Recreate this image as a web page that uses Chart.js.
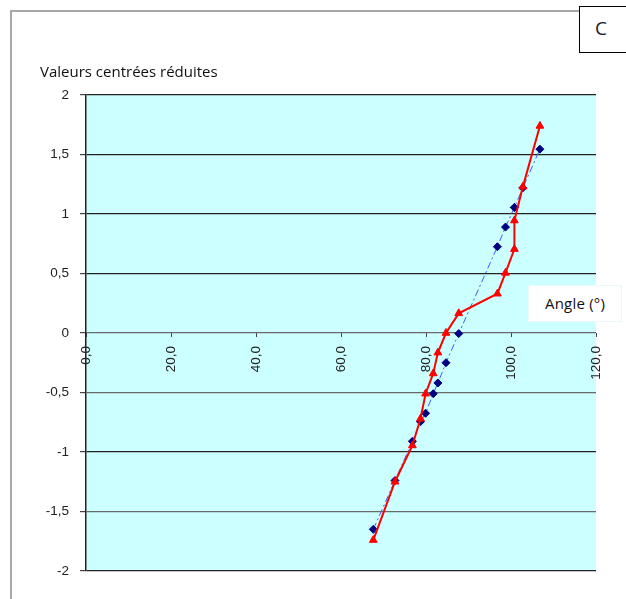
<!DOCTYPE html>
<html>
<head>
<meta charset="utf-8">
<script src="https://cdn.jsdelivr.net/npm/chart.js@4/dist/chart.umd.min.js"></script>
<style>
  html, body { margin: 0; padding: 0; background: #fff; }
  #wrap { position: relative; width: 626px; height: 599px; overflow: hidden; }
  #frame { position: absolute; left: 10px; top: 10px; width: 700px; height: 700px;
           border-left: 2px solid #a8a8a8; border-top: 2px solid #a8a8a8; }
  #cbox { position: absolute; left: 579px; top: 6px; width: 60px; height: 45px; background: #fff;
          border: 1px solid #000; font-family: "Open Sans", "Noto Sans", sans-serif; font-size: 19px; color: #1a1a2e; }
  #cbox span { position: absolute; left: 15px; top: 8px; }
  #ytitle { position: absolute; left: 40px; top: 61px; font-family: "Open Sans", "Noto Sans", sans-serif;
            font-size: 15px; letter-spacing: 0px; color: #111; white-space: nowrap; }
  #xtitle { position: absolute; left: 528px; top: 285px; width: 92px; height: 35px; background: #fff;
            border: 1px solid #e8f8f8; font-family: "Open Sans", "Noto Sans", sans-serif; font-size: 15px; letter-spacing: 0.2px; color: #111; }
  #xtitle span { position: absolute; left: 16px; top: 7px; white-space: nowrap; }
  canvas { position: absolute; left: 0; top: 0; }
</style>
</head>
<body>
<div id="wrap">
  <div id="frame"></div>
  <canvas id="c" width="626" height="599"></canvas>
  <div id="cbox"><span>C</span></div>
  <div id="ytitle">Valeurs centrées réduites</div>
  <div id="xtitle"><span>Angle (°)</span></div>
</div>
<script>
// Angles (°), sorted
const angles = [67.6, 72.7, 76.8, 78.7, 79.9, 81.7, 82.8, 84.7, 87.7, 96.8, 98.7, 100.8, 100.8, 102.8, 106.8];
// Red series (triangles, solid line)
const redValues = [-1.74, -1.25, -0.945, -0.72, -0.51, -0.34, -0.165, 0.0, 0.165, 0.33, 0.505, 0.705, 0.945, 1.23, 1.74];
// Blue series (diamonds, dash-dot line)
const blueValues = [-1.65, -1.24, -0.91, -0.745, -0.675, -0.51, -0.42, -0.25, -0.005, 0.725, 0.89, 1.055, 1.055, 1.22, 1.545];
const xTicks = [0, 20, 40, 60, 80, 100, 120];
const yTicks = [-2, -1.5, -1, -0.5, 0, 0.5, 1, 1.5, 2];

const fr = v => String(v).replace('.', ',');

const bgPlugin = {
  id: 'bg',
  beforeDraw(chart) {
    const {ctx, chartArea: a} = chart;
    ctx.save();
    ctx.fillStyle = '#CCFFFF';
    ctx.fillRect(a.left, a.top, a.right - a.left, a.bottom - a.top);
    ctx.restore();
  }
};

new Chart(document.getElementById('c'), {
  type: 'scatter',
  data: {
    datasets: [
      {
        label: 'blue',
        data: angles.map((x, i) => ({x, y: blueValues[i]})),
        showLine: true,
        borderColor: '#3a5cff',
        borderWidth: 1,
        borderDash: [7, 3, 2, 3],
        pointStyle: 'rectRot',
        pointRadius: 4,
        pointBackgroundColor: '#000080',
        pointBorderColor: '#000080',
        pointBorderWidth: 1,
        order: 2
      },
      {
        label: 'red',
        data: angles.map((x, i) => ({x, y: redValues[i]})),
        showLine: true,
        borderColor: '#ff0000',
        borderWidth: 2,
        pointStyle: 'triangle',
        pointRadius: 4.5,
        pointBackgroundColor: '#ff0000',
        pointBorderColor: '#ff0000',
        pointBorderWidth: 1,
        order: 1
      }
    ]
  },
  options: {
    responsive: false,
    animation: false,
    events: [],
    layout: { padding: { left: 0, right: 30, top: 95, bottom: 28 } },
    plugins: { legend: { display: false }, tooltip: { enabled: false } },
    scales: {
      x: {
        type: 'linear',
        position: { y: 0 },
        min: 0, max: 120,
        afterBuildTicks(s) { s.ticks = xTicks.map(v => ({value: v})); },
        ticks: {
          callback: v => Number(v).toFixed(1).replace('.', ','),
          minRotation: 90, maxRotation: 90,
          autoSkip: false,
          padding: 9,
          color: '#222',
          font: { family: 'Liberation Sans, Arial, sans-serif', size: 13.5 }
        },
        grid: { drawOnChartArea: false, drawTicks: true, tickLength: 4, tickColor: '#444' },
        border: { display: false }
      },
      y: {
        type: 'linear',
        min: -2, max: 2,
        afterBuildTicks(s) { s.ticks = yTicks.map(v => ({value: v})); },
        afterFit(s) { s.width = 86; },
        ticks: {
          callback: v => fr(v),
          autoSkip: false,
          padding: 11,
          color: '#222',
          font: { family: 'Liberation Sans, Arial, sans-serif', size: 13.5 }
        },
        grid: {
          color: ctx => {
            const v = ctx.tick ? ctx.tick.value : 0;
            return (v === 0 || v === -0.5 || v === -1.5) ? '#6a6a6a' : '#222';
          },
          lineWidth: 1.2,
          drawTicks: true,
          tickLength: 6,
          tickColor: '#444'
        },
        border: { color: '#222', width: 1.5 }
      }
    }
  },
  plugins: [bgPlugin]
});
</script>
</body>
</html>
